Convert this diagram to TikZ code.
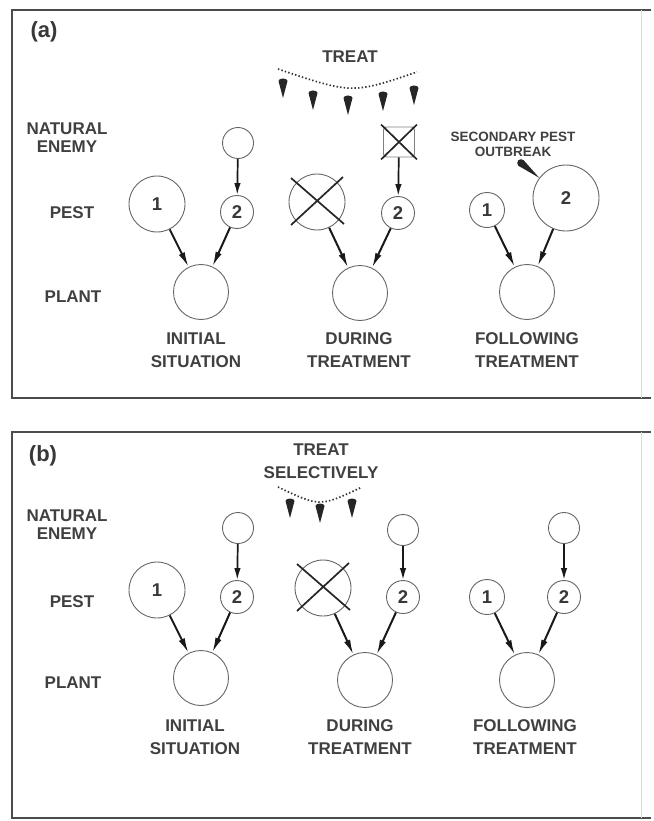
\documentclass[tikz,border=0pt]{standalone}
\usepackage{fontspec}
\setmainfont{Liberation Sans}
\usetikzlibrary{arrows.meta,calc}
\begin{document}
\begin{tikzpicture}[x=1pt,y=-1pt,
  circ/.style={circle,draw=black!60,line width=0.9pt,inner sep=0pt,minimum size=#1,
    font=\fontsize{18.5}{18.5}\selectfont\bfseries,text=black!78},
  xbox/.style={rectangle,rounded corners=3pt,draw=black!50,line width=0.9pt,inner sep=0pt,
    minimum width=31pt,minimum height=30pt},
  lbl/.style={font=\fontsize{17}{23}\selectfont\bfseries,text=black!75,align=center,inner sep=0pt},
  nel/.style={font=\fontsize{17}{18}\selectfont\bfseries,text=black!75,align=center,inner sep=0pt},
  small/.style={font=\fontsize{13.5}{15}\selectfont\bfseries,text=black!75,align=center,inner sep=0pt},
  tag/.style={font=\fontsize{22}{22}\selectfont\bfseries,text=black!78,inner sep=0pt},
  arr/.style={line width=2pt,black!90,-{Latex[length=15pt,width=6.5pt]}},
  varr/.style={line width=1.7pt,black!90,-{Latex[length=12pt,width=6.5pt]}},
  cross/.style={line width=1.7pt,black!85},
  frame/.style={line width=2.6pt,black!70},
  spray/.style={line width=1.7pt,black!80,dash pattern=on 1.4pt off 2.2pt},
]
\useasboundingbox[fill=white] (0,0) rectangle (653,821);

\tikzset{drop/.pic={\fill[black!85] (-4.5,1) arc[start angle=180,end angle=360,x radius=4.5pt,y radius=-2.5pt] -- (0,18) -- cycle;}}

% ---------- frames ----------
\draw[frame] (651,10) -- (12,10) -- (12,398) -- (651,398);
\draw[black!15,line width=0.8pt] (641,10) -- (641,398);
\draw[frame] (651,432) -- (12,432) -- (12,818) -- (651,818);
\draw[black!15,line width=0.8pt] (641,432) -- (641,818);

% ================= panel (a) =================
\node[tag] (ta) at (44,32) {(a)};
\node[nel] (aNEl) at (67,138) {NATURAL\\ENEMY};
\node[lbl] (aPEl) at (72,213) {PEST};
\node[lbl] (aPLl) at (73,297) {PLANT};

% treat spray
\node[lbl] (atreat) at (350,57) {TREAT};
\coordinate (as1) at (278,69);
\coordinate (as2) at (417,72);
\draw[spray] (as1) .. controls (352,94) .. (as2);
\pic at (283,80) {drop};
\pic at (313,92) {drop};
\pic at (348,97) {drop};
\pic at (383,93) {drop};
\pic at (414,87) {drop};

% initial situation
\node[circ=31pt] (aNE1) at (238,143) {};
\node[circ=56pt] (aP11) at (157,204) {1};
\node[circ=33pt] (aP21) at (237,212) {2};
\node[circ=55pt] (aPl1) at (201,292) {};
\draw[varr] (aNE1) -- (aP21);
\draw[arr] (aP11) -- (aPl1);
\draw[arr] (aP21) -- (aPl1);
\node[lbl] (aC1) at (196,350) {INITIAL\\SITUATION};

% during treatment
\node[xbox] (aNE2) at (399,142) {};
\draw[cross] ($(aNE2.north west)+(-2,-2)$) -- ($(aNE2.south east)+(2,2)$);
\draw[cross] ($(aNE2.north east)+(2,-2)$) -- ($(aNE2.south west)+(-2,2)$);
\node[circ=56pt] (aP12) at (317,202) {};
\draw[cross] (291,178) -- (344,224);
\draw[cross] (343,177) -- (291,225);
\node[circ=33pt] (aP22) at (398,213) {2};
\node[circ=55pt] (aPl2) at (360,293) {};
\draw[varr] (aNE2) -- (aP22);
\draw[arr] (aP12) -- (aPl2);
\draw[arr] (aP22) -- (aPl2);
\node[lbl] (aC2) at (359,350) {DURING\\TREATMENT};

% following treatment
\node[circ=35pt] (aP13) at (487,210) {1};
\node[circ=66pt] (aP23) at (566,198) {2};
\node[circ=55pt] (aPl3) at (527,292) {};
\draw[arr] (aP13) -- (aPl3);
\draw[arr] (aP23) -- (aPl3);
\node[small] (asec) at (513,144) {SECONDARY PEST\\OUTBREAK};
\coordinate (aptr) at (521,163);
\fill[black!85] (aptr) circle (3.8pt);
\fill[black!85] ($(aptr)+(-2.7,2.7)$) -- ($(aptr)+(2.7,-2.7)$) -- (aP23.143) -- cycle;
\node[lbl] (aC3) at (527,350) {FOLLOWING\\TREATMENT};

% ================= panel (b) =================
\node[tag] (tb) at (43,456) {(b)};
\node[nel] (bNEl) at (67,525) {NATURAL\\ENEMY};
\node[lbl] (bPEl) at (72,602) {PEST};
\node[lbl] (bPLl) at (73,683) {PLANT};

\node[lbl] (btreat) at (321,461) {TREAT\\SELECTIVELY};
\coordinate (bs1) at (278,487);
\coordinate (bs2) at (362,487);
\draw[spray] (bs1) .. controls (320,507) .. (bs2);
\pic at (290,500) {drop};
\pic at (320,505) {drop};
\pic at (352,500) {drop};

% initial
\node[circ=31pt] (bNE1) at (238,528) {};
\node[circ=56pt] (bP11) at (157,590) {1};
\node[circ=33pt] (bP21) at (237,597) {2};
\node[circ=55pt] (bPl1) at (201,678) {};
\draw[varr] (bNE1) -- (bP21);
\draw[arr] (bP11) -- (bPl1);
\draw[arr] (bP21) -- (bPl1);
\node[lbl] (bC1) at (195,737) {INITIAL\\SITUATION};

% during
\node[circ=31pt] (bNE2) at (403,530) {};
\node[circ=56pt] (bP12) at (323,588) {};
\draw[cross] (297,564) -- (350,610);
\draw[cross] (349,563) -- (297,611);
\node[circ=33pt] (bP22) at (403,597) {2};
\node[circ=55pt] (bPl2) at (365,680) {};
\draw[varr] (bNE2) -- (bP22);
\draw[arr] (bP12) -- (bPl2);
\draw[arr] (bP22) -- (bPl2);
\node[lbl] (bC2) at (360,737) {DURING\\TREATMENT};

% following
\node[circ=31pt] (bNE3) at (564,528) {};
\node[circ=35pt] (bP13) at (487,597) {1};
\node[circ=33pt] (bP23) at (564,597) {2};
\node[circ=55pt] (bPl3) at (527,680) {};
\draw[varr] (bNE3) -- (bP23);
\draw[arr] (bP13) -- (bPl3);
\draw[arr] (bP23) -- (bPl3);
\node[lbl] (bC3) at (525,737) {FOLLOWING\\TREATMENT};
\end{tikzpicture}
\end{document}
